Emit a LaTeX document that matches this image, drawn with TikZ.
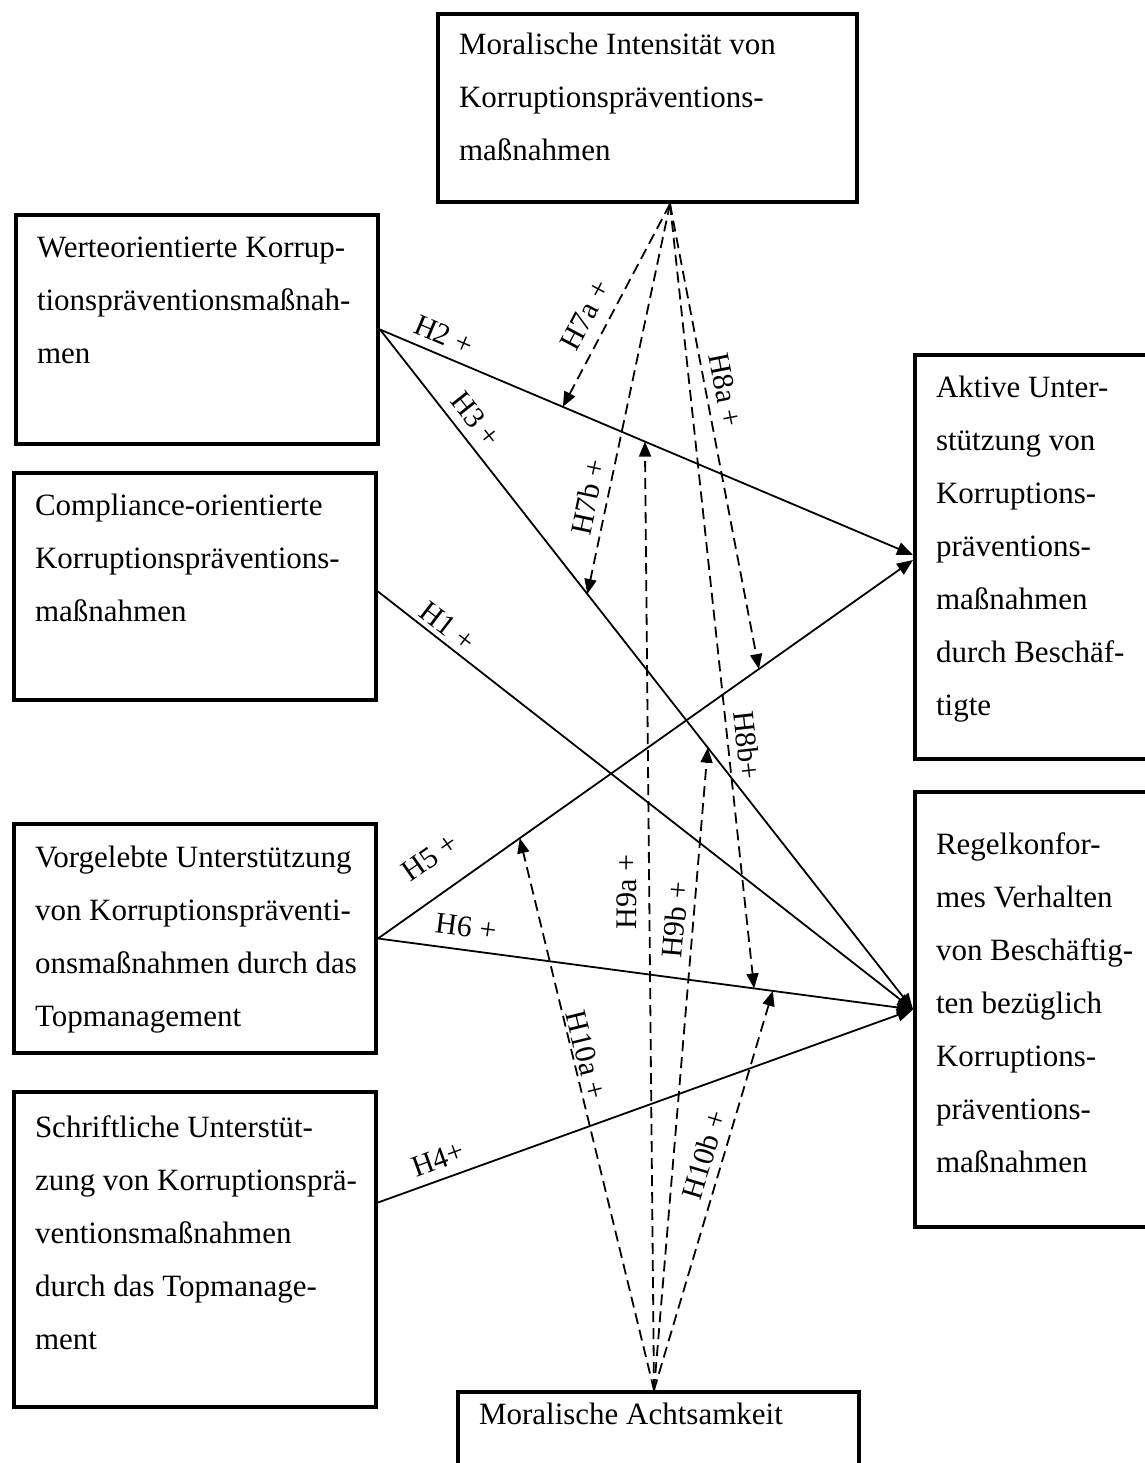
\documentclass[tikz,border=0pt]{standalone}
\usepackage{fontspec}
\setmainfont{Liberation Serif}
\usetikzlibrary{arrows.meta,calc}
\newcommand{\bxt}[4]{\begin{minipage}[c][#2][t]{#1}\fontsize{31pt}{53pt}\selectfont\leftskip=21pt\relax\rightskip=0pt plus 1fil\relax\parindent=0pt\vspace*{#3}\rule{0pt}{24pt}#4\end{minipage}}
\begin{document}
\begin{tikzpicture}[x=1pt,y=-1pt,
  bx/.style={draw, line width=4pt, inner sep=0pt, anchor=north west},
  solidarrow/.style={line width=1.8pt, -{Triangle[length=16pt,width=13pt]}},
  dasharrow/.style={line width=1.8pt, dash pattern=on 11pt off 6pt, -{Triangle[length=15pt,width=12pt]}},
  lbl/.style={font=\fontsize{30pt}{32pt}\selectfont, inner sep=0pt}]
\useasboundingbox (0,0) rectangle (1144,1463);

% boxes
\node[bx] (mi) at (436,12) {\bxt{419pt}{188pt}{17pt}{Moralische Intensität von\\Korruptionspräventions-\\maßnahmen}};
\node[bx] (wert) at (14,213) {\bxt{362pt}{229pt}{18pt}{Werteorientierte Korrup-\\tionspräventionsmaßnah-\\men}};
\node[bx] (comp) at (12,471) {\bxt{362pt}{227pt}{18pt}{Compliance-orientierte\\Korruptionspräventions-\\maßnahmen}};
\node[bx] (vorg) at (12,822) {\bxt{362pt}{229pt}{19pt}{Vorgelebte Unterstützung\\von Korruptionspräventi-\\onsmaßnahmen durch das\\Topmanagement}};
\node[bx] (schr) at (12,1090) {\bxt{362pt}{315pt}{21pt}{Schriftliche Unterstüt-\\zung von Korruptionsprä-\\ventionsmaßnahmen\\durch das Topmanage-\\ment}};
\node[bx] (achts) at (456,1390) {\bxt{401pt}{80pt}{8pt}{Moralische Achtsamkeit}};
\node[bx] (aktiv) at (913,353) {\bxt{240pt}{404pt}{18pt}{Aktive Unter-\\stützung von\\Korruptions-\\präventions-\\maßnahmen\\durch Beschäf-\\tigte}};
\node[bx] (regel) at (913,790) {\bxt{240pt}{435pt}{38pt}{Regelkonfor-\\mes Verhalten\\von Beschäftig-\\ten bezüglich\\Korruptions-\\präventions-\\maßnahmen}};

% solid connectors
\draw[solidarrow] (wert.east) -- coordinate[pos=0.343] (p7a) coordinate[pos=0.497] (p9a) ([yshift=2pt]aktiv.west);
\draw[solidarrow] (wert.east) -- coordinate[pos=0.389] (p7b) coordinate[pos=0.615] (p9b) (regel.west);
\draw[solidarrow] ([yshift=-5pt]comp.east) -- (regel.west);
\draw[solidarrow] (vorg.east) -- coordinate[pos=0.712] (p8a) coordinate[pos=0.265] (p10a) ([yshift=-3pt]aktiv.west);
\draw[solidarrow] (vorg.east) -- coordinate[pos=0.703] (p8b) coordinate[pos=0.738] (p10b) (regel.west);
\draw[solidarrow] ([yshift=47pt]schr.east) -- (regel.west);

% dashed moderators
\coordinate (T) at ([xshift=22.5pt]mi.south);
\coordinate (B) at ([xshift=-4.5pt]achts.north);
\draw[dasharrow] (T) -- (p7a);
\draw[dasharrow] (T) -- (p7b);
\draw[dasharrow] (T) -- (p8a);
\draw[dasharrow] (T) -- (p8b);
\draw[dasharrow] (B) -- (p9a);
\draw[dasharrow] (B) -- (p9b);
\draw[dasharrow] (B) -- (p10a);
\draw[dasharrow] (B) -- (p10b);

% labels
\node[lbl, rotate=-22.9] (l2) at (444,335) {H2 +};
\node[lbl, rotate=-51.5] (l3) at (476,419) {H3 +};
\node[lbl, rotate=-37.6] (l1) at (448,626) {H1 +};
\node[lbl, rotate=34.9] (l5) at (430,857) {H5 +};
\node[lbl, rotate=-7.4] (l6) at (466,927) {H6 +};
\node[lbl, rotate=19.9] (l4) at (438,1159) {H4+};
\node[lbl, rotate=62] (l7a) at (585,315) {H7a +};
\node[lbl, rotate=78] (l7b) at (588,497) {H7b +};
\node[lbl, rotate=-78.9] (l8a) at (725,390) {H8a +};
\node[lbl, rotate=-83.8] (l8b) at (747,745) {H8b+};
\node[lbl, rotate=89.5] (l9a) at (627,892) {H9a +};
\node[lbl, rotate=85.1] (l9b) at (675,920) {H9b +};
\node[lbl, rotate=-76.1] (l10a) at (586,1055) {H10a +};
\node[lbl, rotate=73.3] (l10b) at (704,1155) {H10b +};
\end{tikzpicture}
\end{document}
